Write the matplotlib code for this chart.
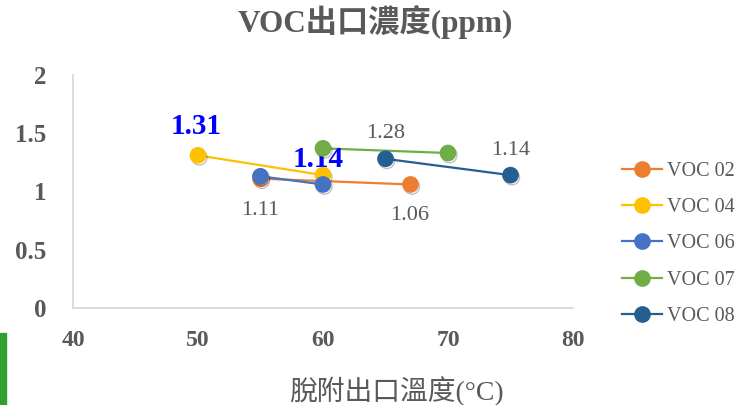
import matplotlib
matplotlib.use("Agg")
import matplotlib.pyplot as plt
import matplotlib.patheffects as pe
from matplotlib.lines import Line2D
from matplotlib.patches import Rectangle

# Series data: outlet temperature (°C) vs VOC outlet concentration (ppm)
series_names = ["VOC 02", "VOC 04", "VOC 06", "VOC 07", "VOC 08"]
temp_02 = [55, 67]
conc_02 = [1.11, 1.06]
temp_04 = [50, 60]
conc_04 = [1.31, 1.14]
temp_06 = [55, 60]
conc_06 = [1.13, 1.06]
temp_07 = [60, 70]
conc_07 = [1.37, 1.33]
temp_08 = [65, 75]
conc_08 = [1.28, 1.14]

x_ticks = [40, 50, 60, 70, 80]
y_ticks = [0, 0.5, 1, 1.5, 2]
y_tick_labels = ["0", "0.5", "1", "1.5", "2"]

colors = ["#ED7D31", "#FFC000", "#4472C4", "#70AD47", "#255E91"]
gray = "#595959"
serif = ["Liberation Serif", "Noto Sans CJK TC"]

fig = plt.figure(figsize=(7.43, 4.05), dpi=100)
ax = fig.add_axes([0.0982, 0.2395, 0.673, 0.5755])

temps = [temp_02, temp_04, temp_06, temp_07, temp_08]
concs = [conc_02, conc_04, conc_06, conc_07, conc_08]
marker_shadow = [pe.SimpleLineShadow(offset=(1.0, -1.5), alpha=0.25, shadow_color="black"),
                 pe.Normal()]
handles = []
for name, t, c, col in zip(series_names, temps, concs, colors):
    ax.plot(t, c, color=col, lw=1.6, zorder=3)
    ax.plot(t, c, ls="none", marker="o", markersize=11, markerfacecolor=col,
            markeredgecolor=col, path_effects=marker_shadow, zorder=4)
    handles.append(Line2D([], [], color=col, lw=1.6, marker="o", markersize=11,
                          markerfacecolor=col, markeredgecolor=col, label=name))

# Value labels
ax.annotate(f"{conc_04[0]:.2f}", (temp_04[0], conc_04[0]), xytext=(-2, 29),
            textcoords="offset pixels", ha="center", va="center",
            color="#0000FF", fontsize=21, fontweight="bold", family=serif)
ax.annotate(f"{conc_04[1]:.2f}", (temp_04[1], conc_04[1]), xytext=(-5, 16),
            textcoords="offset pixels", ha="center", va="center",
            color="#0000FF", fontsize=21, fontweight="bold", family=serif)
ax.annotate(f"{conc_02[0]:.2f}", (temp_02[0], conc_02[0]), xytext=(0, -32),
            textcoords="offset pixels", ha="center", va="center",
            color=gray, fontsize=16, family=serif)
ax.annotate(f"{conc_02[1]:.2f}", (temp_02[1], conc_02[1]), xytext=(-1, -31),
            textcoords="offset pixels", ha="center", va="center",
            color=gray, fontsize=16, family=serif)
ax.annotate(f"{conc_08[0]:.2f}", (temp_08[0], conc_08[0]), xytext=(0, 25),
            textcoords="offset pixels", ha="center", va="center",
            color=gray, fontsize=16, family=serif)
ax.annotate(f"{conc_08[1]:.2f}", (temp_08[1], conc_08[1]), xytext=(0, 25),
            textcoords="offset pixels", ha="center", va="center",
            color=gray, fontsize=16, family=serif)

ax.set_xlim(40, 80)
ax.set_ylim(0, 2)
ax.set_xticks(x_ticks)
ax.set_xticklabels([str(v) for v in x_ticks])
ax.set_yticks(y_ticks)
ax.set_yticklabels(y_tick_labels)
for lab in ax.get_xticklabels():
    lab.set_family(serif)
    lab.set_fontweight("bold")
    lab.set_fontsize(17)
    lab.set_color(gray)
for lab in ax.get_yticklabels():
    lab.set_family(serif)
    lab.set_fontweight("bold")
    lab.set_fontsize(18)
    lab.set_color(gray)
ax.tick_params(axis="both", length=0)
ax.tick_params(axis="x", pad=16)
ax.tick_params(axis="y", pad=19)

for side in ["top", "right"]:
    ax.spines[side].set_visible(False)
for side in ["left", "bottom"]:
    ax.spines[side].set_color("#D9D9D9")
    ax.spines[side].set_linewidth(1.3)

fig.text(0.505, 0.945, "VOC出口濃度(ppm)", ha="center", va="center",
         fontsize=22.5, fontweight="bold", color=gray, family=serif)
fig.text(0.533, 0.035, "脫附出口溫度(°C)", ha="center", va="center",
         fontsize=20, color=gray, family=serif)

leg = fig.legend(handles=handles, loc="upper left", bbox_to_anchor=(0.826, 0.62),
                 frameon=False, prop={"family": serif, "size": 14.5}, labelspacing=0.85,
                 handlelength=2.0, handletextpad=0.25, borderaxespad=0)
for txt in leg.get_texts():
    txt.set_color(gray)

# Green accent strip at lower left
fig.patches.append(Rectangle((0, 0), 6 / 743, (405 - 333) / 405,
                             transform=fig.transFigure, color="#30A030", zorder=0))

fig.savefig("out.png", dpi=100)
